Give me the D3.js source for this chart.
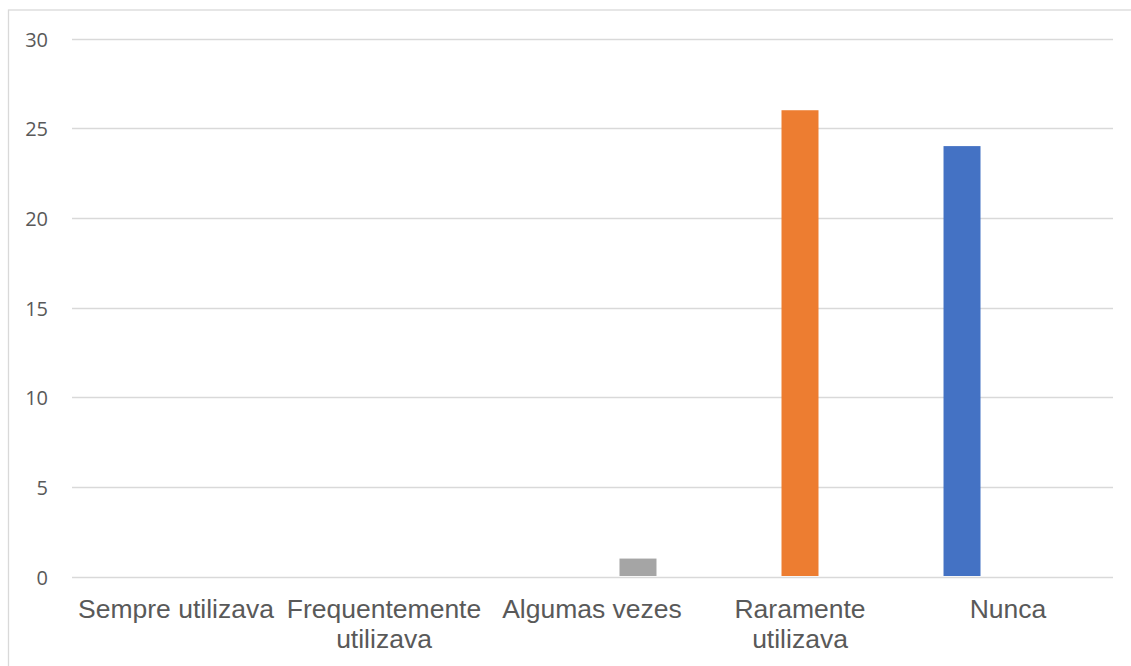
<!DOCTYPE html>
<html>
<head>
<meta charset="utf-8">
<script src="https://cdn.jsdelivr.net/npm/d3@7"></script>
<style>
  html, body { margin: 0; padding: 0; background: #fff; }
  svg { display: block; }
</style>
</head>
<body>
<svg id="chart" width="1131" height="666"></svg>
<script>
const categories = ["Sempre utilizava", "Frequentemente utilizava", "Algumas vezes", "Raramente utilizava", "Nunca"];
const seriesNames = ["Série 1", "Série 2", "Série 3"];
const series1 = [0, 0, 0, 0, 24];
const series2 = [0, 0, 0, 26, 0];
const series3 = [0, 0, 1, 0, 0];
const seriesColors = ["#4472C4", "#ED7D31", "#A5A5A5"];
const yTicks = [0, 5, 10, 15, 20, 25, 30];

const seriesValues = [series1, series2, series3];
const svg = d3.select("#chart");
const plot = { left: 72, right: 1112, top: 38.5, bottom: 576.5 };

// chart border
svg.append("rect")
  .attr("x", 8.5).attr("y", 10)
  .attr("width", 1140).attr("height", 700)
  .attr("fill", "#fff")
  .attr("stroke", "#d9d9d9")
  .attr("stroke-width", 1.3);

const x0 = d3.scaleBand().domain(categories).range([plot.left, plot.right]).padding(0);
const groupW = x0.bandwidth() * 0.62;
const x1 = d3.scaleBand().domain(seriesNames).range([0, groupW]).paddingInner(9 / 46).paddingOuter(0);
const y = d3.scaleLinear().domain([0, 30]).range([plot.bottom, plot.top]);

// gridlines
svg.append("g")
  .selectAll("line")
  .data(yTicks)
  .join("line")
  .attr("x1", plot.left).attr("x2", plot.right + 1)
  .attr("y1", d => Math.round(y(d)) + 0.5)
  .attr("y2", d => Math.round(y(d)) + 0.5)
  .attr("stroke", "#d9d9d9")
  .attr("stroke-width", d => d === 0 ? 1.6 : 1.3);

// y tick labels
svg.append("g")
  .selectAll("text")
  .data(yTicks)
  .join("text")
  .attr("x", 48)
  .attr("y", d => Math.round(y(d)) + 7.5)
  .attr("text-anchor", "end")
  .attr("font-family", "'Open Sans', sans-serif")
  .attr("font-size", 20)
  .attr("fill", "#595959")
  .text(d => d);

// bars
const barData = [];
categories.forEach((c, i) => {
  seriesNames.forEach((s, j) => {
    barData.push({ cat: c, series: s, value: seriesValues[j][i], color: seriesColors[j] });
  });
});

svg.append("g")
  .selectAll("rect")
  .data(barData.filter(d => d.value > 0))
  .join("rect")
  .attr("x", d => x0(d.cat) + (x0.bandwidth() - groupW) / 2 + x1(d.series))
  .attr("width", x1.bandwidth())
  .attr("y", d => y(d.value))
  .attr("height", d => y(0) - y(d.value) - 0.5)
  .attr("fill", d => d.color);

// category labels with wrapping
const labelG = svg.append("g")
  .attr("font-family", "'Liberation Sans', Arial, sans-serif")
  .attr("font-size", 26.5)
  .attr("fill", "#595959");

categories.forEach(c => {
  const cx = x0(c) + x0.bandwidth() / 2;
  const t = labelG.append("text").attr("text-anchor", "middle");
  const words = c.split(" ");
  let lines = [];
  let line = [];
  const maxW = x0.bandwidth() - 4;
  const probe = labelG.append("text");
  words.forEach(w => {
    const test = line.concat([w]).join(" ");
    probe.text(test);
    if (probe.node().getComputedTextLength() > maxW && line.length) {
      lines.push(line.join(" "));
      line = [w];
    } else {
      line.push(w);
    }
  });
  lines.push(line.join(" "));
  probe.remove();
  lines.forEach((l, k) => {
    t.append("tspan").attr("x", cx).attr("y", 618 + k * 30).text(l);
  });
});
</script>
</body>
</html>
